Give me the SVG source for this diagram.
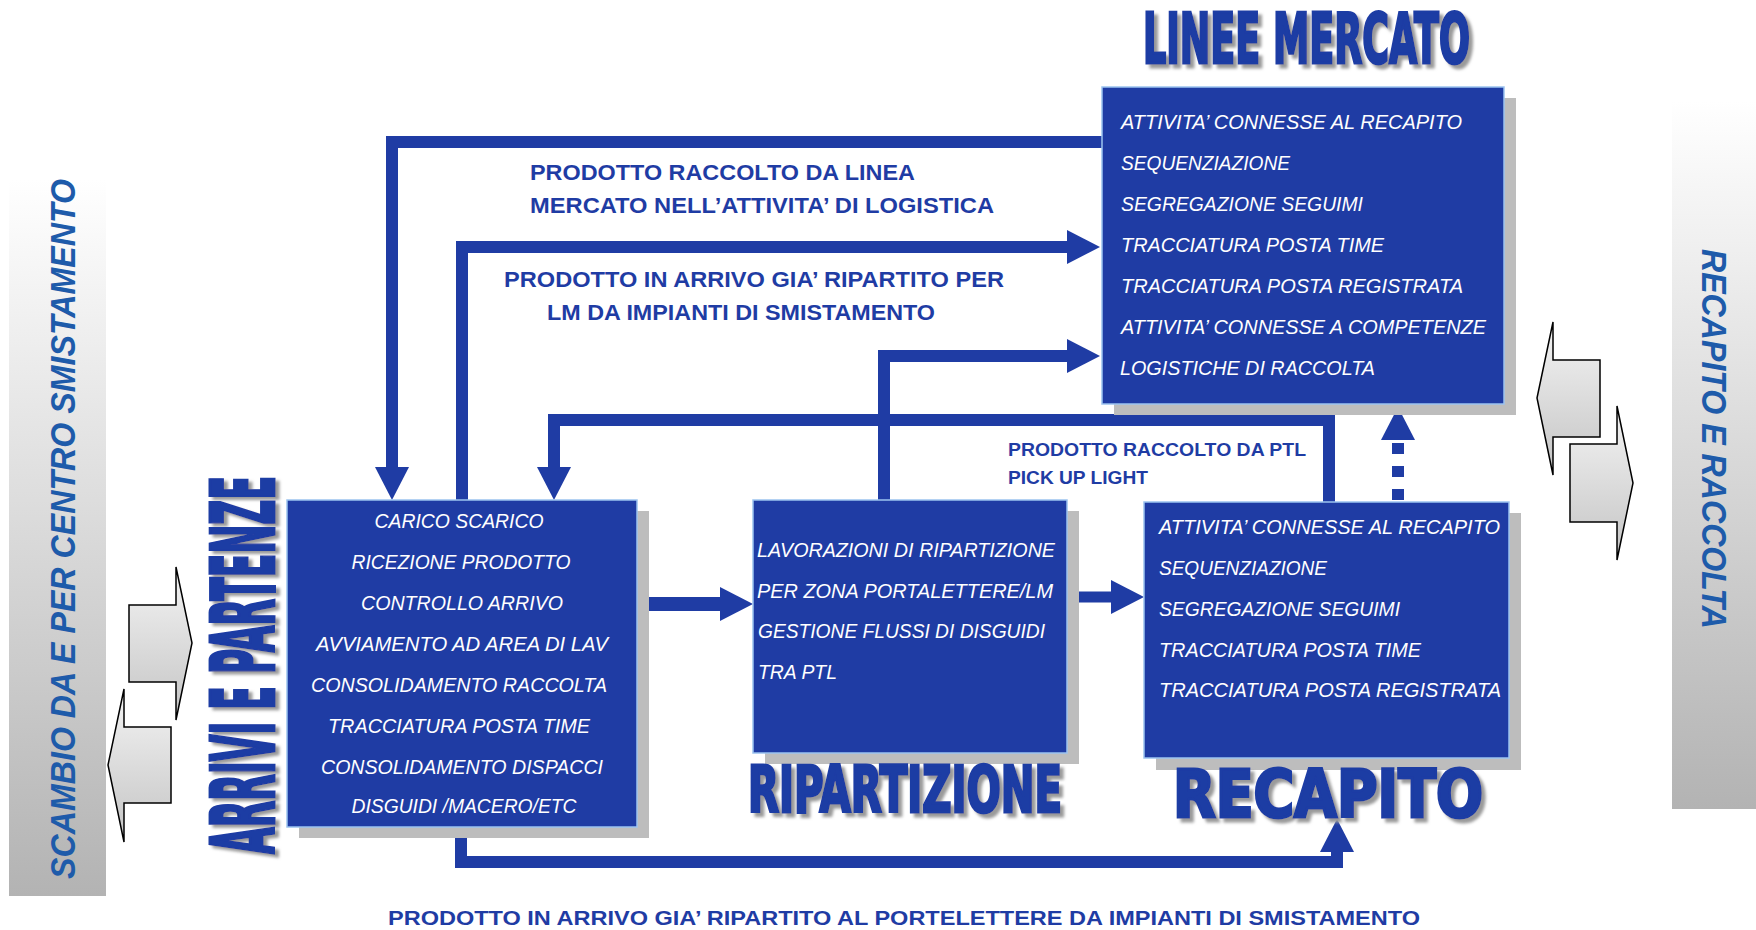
<svg xmlns="http://www.w3.org/2000/svg" width="1756" height="930" viewBox="0 0 1756 930">
<defs>
<linearGradient id="panelGrad" x1="0" y1="0" x2="0" y2="1">
<stop offset="0" stop-color="#ffffff"/>
<stop offset="1" stop-color="#b3b3b3"/>
</linearGradient>
<linearGradient id="arrowGrad" x1="0" y1="0" x2="0" y2="1">
<stop offset="0" stop-color="#f4f4f4"/>
<stop offset="1" stop-color="#c4c4c4"/>
</linearGradient>
<filter id="tshadow" x="-10%" y="-20%" width="130%" height="150%">
<feDropShadow dx="4" dy="4" stdDeviation="1.5" flood-color="#9a9a9a" flood-opacity="1"/>
</filter>
<filter id="tshadowV" x="-20%" y="-10%" width="150%" height="130%">
<feDropShadow dx="4" dy="3" stdDeviation="1.5" flood-color="#9a9a9a" flood-opacity="1"/>
</filter>
<marker id="head" markerUnits="userSpaceOnUse" viewBox="0 -18 34 36" refX="0" refY="0" markerWidth="34" markerHeight="36" orient="auto" overflow="visible">
<path d="M0,-17 L33,0 L0,17 Z" fill="#1F3CA4"/>
</marker>
<style>
.box{fill:#1F3CA4;stroke:#9CC3F0;stroke-width:1.5}
.shadow{fill:#bdbdbd}
.bt{font-family:"Liberation Sans",Arial,sans-serif;font-style:italic;font-size:19.5px;fill:#ffffff}
.lbl{font-family:"Liberation Sans Narrow","Liberation Sans",Arial,sans-serif;font-weight:bold;fill:#1F3CA4}
.ttl{font-family:"Liberation Sans Narrow","DejaVu Sans Condensed","Liberation Sans",sans-serif;font-weight:bold;fill:#1F3CA4;stroke:#1F3CA4;stroke-width:3;stroke-linejoin:miter}
.side{font-family:"Liberation Sans",Arial,sans-serif;font-weight:bold;font-style:italic;font-size:35px;fill:#1E5BAA}
.conn{fill:none;stroke:#1F3CA4;stroke-width:12;stroke-linejoin:miter;stroke-linecap:butt}
.blk{fill:url(#arrowGrad);stroke:#000;stroke-width:1.5}
</style>
</defs>
<rect width="1756" height="930" fill="#ffffff"/>

<g id="side-left">
<rect x="9" y="179" width="97" height="717" fill="url(#panelGrad)"/>
<text class="side" transform="translate(75,879) rotate(-90)" x="0" y="0" textLength="700" lengthAdjust="spacingAndGlyphs">SCAMBIO DA E PER CENTRO SMISTAMENTO</text>
<polygon class="blk" points="129,605 176,605 176,567 192,643 176,720 176,682 129,682"/>
<polygon class="blk" points="171,727 124,727 124,689 108,765 124,842 124,803 171,803"/>
</g>

<g id="side-right">
<rect x="1672" y="101" width="84" height="708" fill="url(#panelGrad)"/>
<text class="side" transform="translate(1702,249) rotate(90)" x="0" y="0" textLength="380" lengthAdjust="spacingAndGlyphs">RECAPITO E RACCOLTA</text>
<polygon class="blk" points="1600,360 1553,360 1553,322 1537,398 1553,475 1553,437 1600,437"/>
<polygon class="blk" points="1570,444 1617,444 1617,406 1633,483 1617,560 1617,522 1570,522"/>
</g>

<g id="connectors">
<path class="conn" d="M1102,142 H392 V467" marker-end="url(#head)"/>
<path class="conn" d="M462,500 V247 H1067" marker-end="url(#head)"/>
<path class="conn" d="M884,500 V356 H1067" marker-end="url(#head)"/>
<path class="conn" d="M1329,502 V420 H554 V467" marker-end="url(#head)"/>
<path class="conn" d="M461,827 V862 H1337 V852" marker-end="url(#head)"/>
<path class="conn" style="stroke-width:14" d="M637,604 H720" marker-end="url(#head)"/>
<path class="conn" style="stroke-width:11" d="M1067,597 H1111" marker-end="url(#head)"/>
<path class="conn" style="stroke-dasharray:11 12" d="M1398,500 V440" marker-end="url(#head)"/>
</g>

<g id="labels">
<text class="lbl" x="530" y="180" font-size="22" textLength="385" lengthAdjust="spacingAndGlyphs">PRODOTTO RACCOLTO DA LINEA</text>
<text class="lbl" x="530" y="213" font-size="22" textLength="464" lengthAdjust="spacingAndGlyphs">MERCATO NELL’ATTIVITA’ DI LOGISTICA</text>
<text class="lbl" x="504" y="287" font-size="22" textLength="500" lengthAdjust="spacingAndGlyphs">PRODOTTO IN ARRIVO GIA’ RIPARTITO PER</text>
<text class="lbl" x="547" y="320" font-size="22" textLength="388" lengthAdjust="spacingAndGlyphs">LM DA IMPIANTI DI SMISTAMENTO</text>
<text class="lbl" x="1008" y="456" font-size="18.5" textLength="298" lengthAdjust="spacingAndGlyphs">PRODOTTO RACCOLTO DA PTL</text>
<text class="lbl" x="1008" y="484" font-size="18.5" textLength="140" lengthAdjust="spacingAndGlyphs">PICK UP LIGHT</text>
<text class="lbl" x="388" y="925" font-size="21" textLength="1032" lengthAdjust="spacingAndGlyphs">PRODOTTO IN ARRIVO GIA’ RIPARTITO AL PORTELETTERE DA IMPIANTI DI SMISTAMENTO</text>
</g>

<g id="linee-mercato">
<rect class="shadow" x="1114" y="98" width="402" height="317"/>
<rect class="box" x="1102" y="87" width="402" height="317"/>
<text class="ttl" filter="url(#tshadow)" x="1143" y="63" font-size="70" textLength="327" lengthAdjust="spacingAndGlyphs">LINEE MERCATO</text>
<text class="bt" x="1121" y="129" textLength="341" lengthAdjust="spacingAndGlyphs">ATTIVITA’ CONNESSE AL RECAPITO</text>
<text class="bt" x="1121" y="170" textLength="169" lengthAdjust="spacingAndGlyphs">SEQUENZIAZIONE</text>
<text class="bt" x="1121" y="211" textLength="242" lengthAdjust="spacingAndGlyphs">SEGREGAZIONE SEGUIMI</text>
<text class="bt" x="1121" y="252" textLength="263" lengthAdjust="spacingAndGlyphs">TRACCIATURA POSTA TIME</text>
<text class="bt" x="1121" y="293" textLength="342" lengthAdjust="spacingAndGlyphs">TRACCIATURA POSTA REGISTRATA</text>
<text class="bt" x="1121" y="334" textLength="365" lengthAdjust="spacingAndGlyphs">ATTIVITA’ CONNESSE A COMPETENZE</text>
<text class="bt" x="1120" y="375" textLength="255" lengthAdjust="spacingAndGlyphs">LOGISTICHE DI RACCOLTA</text>
</g>

<g id="arrivi-partenze">
<rect class="shadow" x="299" y="511" width="350" height="327"/>
<rect class="box" x="287" y="500" width="350" height="327"/>
<g filter="url(#tshadowV)">
<text class="ttl" transform="translate(274,854) rotate(-90)" x="0" y="0" font-size="87" textLength="378" lengthAdjust="spacingAndGlyphs">ARRIVI E PARTENZE</text>
</g>
<g text-anchor="middle">
<text class="bt" x="459" y="528" textLength="169" lengthAdjust="spacingAndGlyphs">CARICO SCARICO</text>
<text class="bt" x="461" y="569" textLength="219" lengthAdjust="spacingAndGlyphs">RICEZIONE PRODOTTO</text>
<text class="bt" x="462" y="610" textLength="202" lengthAdjust="spacingAndGlyphs">CONTROLLO ARRIVO</text>
<text class="bt" x="462" y="651" textLength="292" lengthAdjust="spacingAndGlyphs">AVVIAMENTO AD AREA DI LAV</text>
<text class="bt" x="459" y="692" textLength="296" lengthAdjust="spacingAndGlyphs">CONSOLIDAMENTO RACCOLTA</text>
<text class="bt" x="459" y="733" textLength="262" lengthAdjust="spacingAndGlyphs">TRACCIATURA POSTA TIME</text>
<text class="bt" x="462" y="774" textLength="282" lengthAdjust="spacingAndGlyphs">CONSOLIDAMENTO DISPACCI</text>
<text class="bt" x="464" y="813" textLength="225" lengthAdjust="spacingAndGlyphs">DISGUIDI /MACERO/ETC</text>
</g>
</g>

<g id="ripartizione">
<rect class="shadow" x="765" y="511" width="314" height="253"/>
<rect class="box" x="753" y="500" width="314" height="253"/>
<text class="ttl" filter="url(#tshadow)" x="748" y="812" font-size="64" textLength="314" lengthAdjust="spacingAndGlyphs">RIPARTIZIONE</text>
<text class="bt" x="757" y="557" textLength="298" lengthAdjust="spacingAndGlyphs">LAVORAZIONI DI RIPARTIZIONE</text>
<text class="bt" x="757" y="598" textLength="296" lengthAdjust="spacingAndGlyphs">PER ZONA PORTALETTERE/LM</text>
<text class="bt" x="758" y="638" textLength="287" lengthAdjust="spacingAndGlyphs">GESTIONE FLUSSI DI DISGUIDI</text>
<text class="bt" x="758" y="679" textLength="79" lengthAdjust="spacingAndGlyphs">TRA PTL</text>
</g>

<g id="recapito">
<rect class="shadow" x="1156" y="513" width="365" height="257"/>
<rect class="box" x="1144" y="502" width="365" height="256"/>
<text class="ttl" filter="url(#tshadow)" x="1173" y="817" font-size="66" textLength="310" lengthAdjust="spacingAndGlyphs">RECAPITO</text>
<text class="bt" x="1159" y="534" textLength="341" lengthAdjust="spacingAndGlyphs">ATTIVITA’ CONNESSE AL RECAPITO</text>
<text class="bt" x="1159" y="575" textLength="168" lengthAdjust="spacingAndGlyphs">SEQUENZIAZIONE</text>
<text class="bt" x="1159" y="616" textLength="241" lengthAdjust="spacingAndGlyphs">SEGREGAZIONE SEGUIMI</text>
<text class="bt" x="1159" y="657" textLength="262" lengthAdjust="spacingAndGlyphs">TRACCIATURA POSTA TIME</text>
<text class="bt" x="1159" y="697" textLength="342" lengthAdjust="spacingAndGlyphs">TRACCIATURA POSTA REGISTRATA</text>
</g>
</svg>
